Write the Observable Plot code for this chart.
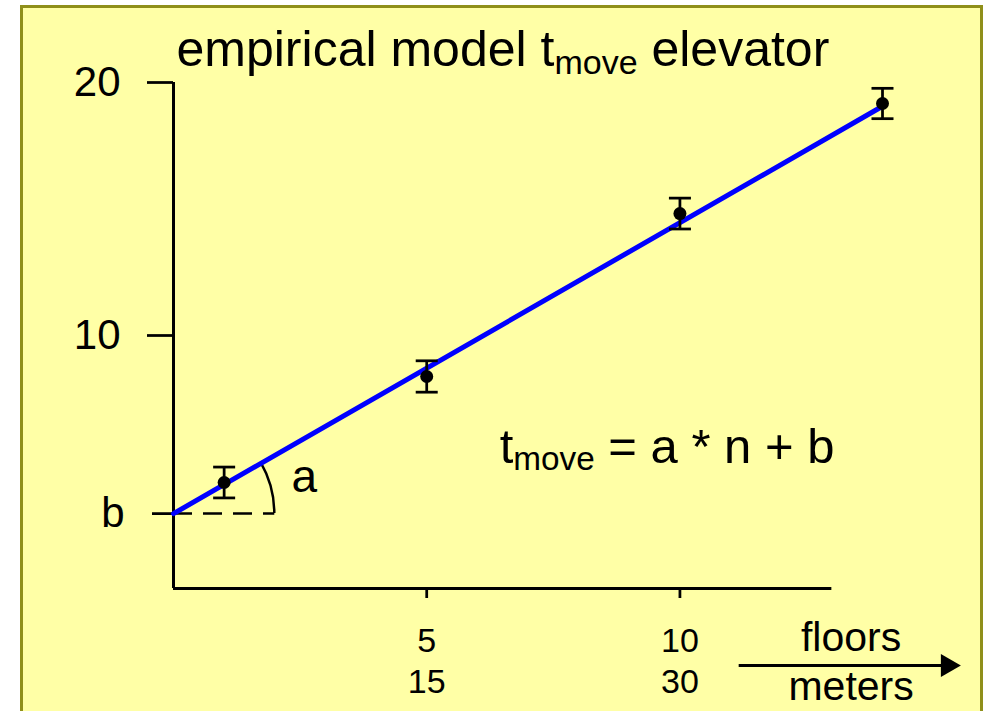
<!DOCTYPE html>
<html>
<head>
<meta charset="utf-8">
<script src="https://cdn.jsdelivr.net/npm/d3@7"></script>
<script src="https://cdn.jsdelivr.net/npm/@observablehq/plot@0.6"></script>
<style>
  html, body { margin: 0; padding: 0; background: #ffffff; width: 987px; height: 711px; overflow: hidden; }
  #panel { position: absolute; left: 20px; top: 5px; width: 957px; height: 730px; background: #FFFFA6; border: 3px solid #8f8f1a; }
  #chart { position: absolute; left: 0; top: 0; }
</style>
</head>
<body>
<div id="panel"></div>
<div id="chart"></div>
<script>
// ---- data ----
const floors = [1, 5, 10, 14];
const tMove = [4.19, 8.38, 14.82, 19.17];
const tErr = [0.61, 0.62, 0.61, 0.60];
const fitN = [0, 14];
const fitT = [2.96, 19.06];
const yTickValues = [10, 20];
const xTickValues = [5, 10];
const xTickMeters = [15, 30];
const titleText = "empirical model t_move elevator";
const formulaText = "t_move = a * n + b";
const unitTop = "floors";
const unitBottom = "meters";

const points = floors.map((n, i) => ({n, t: tMove[i], lo: tMove[i] - tErr[i], hi: tMove[i] + tErr[i]}));
const fitLine = fitN.map((n, i) => ({n, t: fitT[i]}));
const xTicks = xTickValues.map((n, i) => ({n, label: `${n}\n${xTickMeters[i]}`}));

const capSymbol = {
  draw(ctx, size) { const r = Math.sqrt(size / Math.PI); ctx.moveTo(-r, 0); ctx.lineTo(r, 0); }
};
const headSymbol = {
  draw(ctx, size) { const r = Math.sqrt(size / Math.PI); ctx.moveTo(r, 0); ctx.lineTo(-r, -1.15 * r); ctx.lineTo(-r, 1.15 * r); ctx.closePath(); }
};

// angle arc between the dashed baseline and the fit line
function angleArc(index, scales) {
  const x0 = scales.x(fitN[0]), y0 = scales.y(fitT[0]);
  const x1 = scales.x(fitN[1]), y1 = scales.y(fitT[1]);
  const ang = Math.atan2(y0 - y1, x1 - x0);
  const r = scales.x(2) - x0;
  const ex = x0 + r * Math.cos(ang), ey = y0 - r * Math.sin(ang);
  return d3.create("svg:path")
    .attr("d", `M${x0 + r},${y0}A${r},${r} 0 0 0 ${ex},${ey}`)
    .attr("fill", "none").attr("stroke", "black").attr("stroke-width", 2.5)
    .node();
}

const chart = Plot.plot({
  width: 987,
  height: 711,
  marginLeft: 173,
  marginRight: 105,
  marginTop: 82,
  marginBottom: 123,
  x: {domain: [0, 14], axis: null, label: null},
  y: {domain: [0, 20], axis: null, label: null},
  style: {background: "transparent", fontFamily: "'Liberation Sans', Arial, sans-serif", color: "black", overflow: "visible"},
  marks: [
    // axes lines
    Plot.ruleX([0], {y1: 0, y2: 20, stroke: "black", strokeWidth: 3}),
    Plot.ruleY([0], {x1: 0, x2: 13, stroke: "black", strokeWidth: 3}),
    // y ticks
    Plot.axisY(yTickValues, {anchor: "left", label: null, tickSize: 26, tickPadding: 27, fontSize: 42, strokeWidth: 2.75, tickFormat: d => `${d}`}),
    Plot.axisY([fitT[0]], {anchor: "left", label: null, tickSize: 21, tickPadding: 28, fontSize: 42, strokeWidth: 2.75, tickFormat: () => "b"}),
    // x ticks
    Plot.axisX(xTickValues, {anchor: "bottom", label: null, tickSize: 10, strokeWidth: 2.75, tickFormat: () => ""}),
    Plot.text(xTicks, {x: "n", y: () => 0, text: "label", dy: 34, lineAnchor: "top", lineHeight: 1.22, fontSize: 34}),
    // dashed baseline + angle arc
    Plot.ruleY([fitT[0]], {x1: 0, x2: 2, stroke: "black", strokeWidth: 2.5, strokeDasharray: "19,11"}),
    angleArc,
    // fit line
    Plot.line(fitLine, {x: "n", y: "t", stroke: "#0000ff", strokeWidth: 5}),
    // error bars
    Plot.ruleX(points, {x: "n", y1: "lo", y2: "hi", stroke: "black", strokeWidth: 2.75}),
    Plot.dot(points, {x: "n", y: "lo", symbol: capSymbol, r: 11, stroke: "black", strokeWidth: 2.75, fill: "none"}),
    Plot.dot(points, {x: "n", y: "hi", symbol: capSymbol, r: 11, stroke: "black", strokeWidth: 2.75, fill: "none"}),
    Plot.dot(points, {x: "n", y: "t", r: 6.5, fill: "black", stroke: "none"}),
    // annotations
    Plot.text([formulaText], {x: () => 6.44, y: () => 4.98, text: d => d, textAnchor: "start", lineAnchor: "bottom", fontSize: 49}),
    Plot.text(["a"], {x: () => 2.33, y: () => 3.83, text: d => d, textAnchor: "start", lineAnchor: "bottom", fontSize: 46}),
    Plot.text([titleText], {frameAnchor: "top-left", text: d => d, dx: 3, dy: -17, textAnchor: "start", lineAnchor: "bottom", fontSize: 50}),
    // unit labels with arrow
    Plot.text([unitTop], {x: () => 13.38, y: () => -2.48, text: d => d, textAnchor: "middle", lineAnchor: "bottom", fontSize: 41}),
    Plot.text([unitBottom], {x: () => 13.38, y: () => -4.42, text: d => d, textAnchor: "middle", lineAnchor: "bottom", fontSize: 41}),
    Plot.link([unitTop], {x1: () => 11.16, x2: () => 15.3, y1: () => -3.04, y2: () => -3.04, stroke: "black", strokeWidth: 3}),
    Plot.dot([unitTop], {x: () => 15.35, y: () => -3.04, symbol: headSymbol, r: 10, fill: "black", stroke: "none"})
  ]
});

document.getElementById("chart").appendChild(chart);

// subscripts: "t_move"
d3.select(chart).selectAll("text").each(function() {
  const s = this.textContent;
  const m = s.match(/^(.*?)_(\w+)(.*)$/);
  if (!m) return;
  const fs = parseFloat(getComputedStyle(this).fontSize);
  const subFs = fs * 0.68;
  const shift = fs * 0.16;
  const el = d3.select(this);
  el.text(null);
  el.append("tspan").text(m[1]);
  el.append("tspan").attr("font-size", subFs).attr("dy", shift).text(m[2]);
  el.append("tspan").attr("dy", -shift).text(m[3]);
});
</script>
</body>
</html>
